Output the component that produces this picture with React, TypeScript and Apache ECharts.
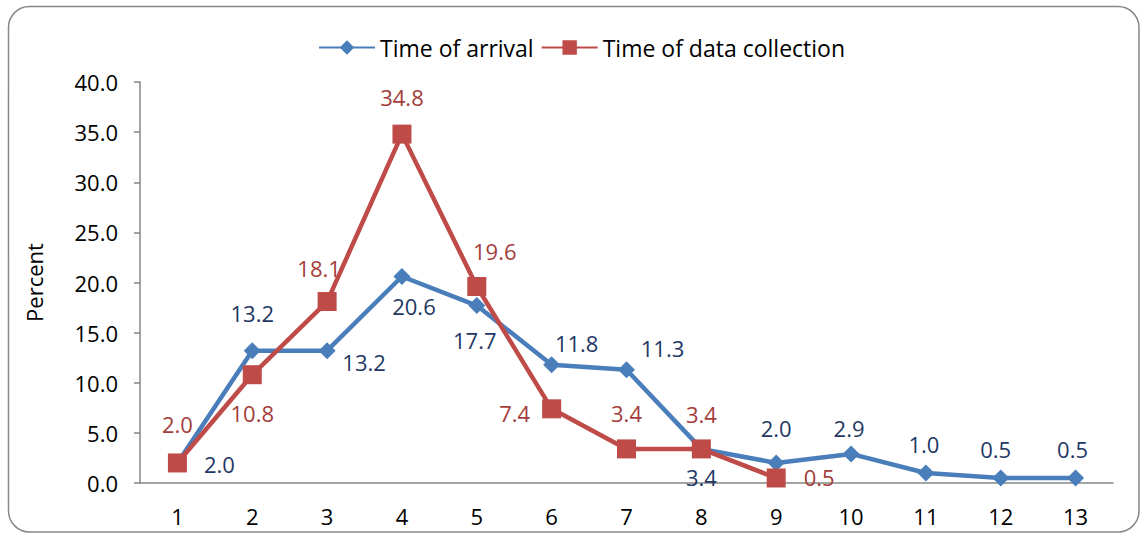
import React, { useEffect, useRef } from "react";
import * as echarts from "echarts";

const categories = ["1", "2", "3", "4", "5", "6", "7", "8", "9", "10", "11", "12", "13"];
const arrivalValues = [2.0, 13.2, 13.2, 20.6, 17.7, 11.8, 11.3, 3.4, 2.0, 2.9, 1.0, 0.5, 0.5];
const collectionValues = [2.0, 10.8, 18.1, 34.8, 19.6, 7.4, 3.4, 3.4, 0.5];
const yTicks = { min: 0, max: 40, interval: 5 };

// label offsets (pixels, relative to each point)
const arrivalLabelOffsets: [number, number][] = [
  [42, 1], [0, -38], [37, 11], [12, 30], [-2, 34], [25, -22], [36, -22],
  [0, 28], [0, -35], [-2, -26], [-2, -29], [-5, -29], [-3, -29],
];
const collectionLabelOffsets: [number, number][] = [
  [0, -39], [0, 38], [-8, -34], [0, -37], [18, -36], [-37, 4], [0, -36], [0, -35], [43, -1],
];

const FONT = "'Open Sans', sans-serif";
const FS = 22;
const AXIS_GRAY = "#868686";
const BLUE = "#4A7EBB";
const BLUE_TEXT = "#1F3864";
const RED = "#BE4B48";
const RED_TEXT = "#A33D3B";

export default function App() {
  const ref = useRef<HTMLDivElement>(null);
  useEffect(() => {
    if (!ref.current) return;
    const chart = echarts.init(ref.current, null, { renderer: "svg" });
    const fmt = (v: number) => Number(v).toFixed(1);
    chart.setOption({
      animation: false,
      textStyle: { fontFamily: FONT },
      graphic: [
        {
          type: "rect",
          shape: { x: 8.5, y: 6.5, width: 1130.5, height: 525.5, r: 21 },
          style: { fill: "none", stroke: "#878787", lineWidth: 1.5 },
          silent: true,
        },
      ],
      legend: {
        top: 31,
        left: 313,
        itemWidth: 56,
        itemHeight: 18,
        itemGap: 7,
        textStyle: { fontFamily: FONT, fontSize: 23, color: "#000" },
        data: ["Time of arrival", "Time of data collection"],
      },
      grid: { left: 140, right: 27, top: 82, bottom: 51, containLabel: false },
      xAxis: {
        type: "category",
        data: categories,
        boundaryGap: true,
        axisLine: { lineStyle: { color: AXIS_GRAY, width: 1.5 } },
        axisTick: { alignWithLabel: false, length: 6, lineStyle: { color: AXIS_GRAY, width: 1.5 } },
        axisLabel: { color: "#000", fontSize: FS, fontFamily: FONT, margin: 22 },
        splitLine: { show: false },
      },
      yAxis: {
        type: "value",
        min: yTicks.min,
        max: yTicks.max,
        interval: yTicks.interval,
        name: "Percent",
        nameLocation: "middle",
        nameRotate: 90,
        nameGap: 95,
        nameTextStyle: { color: "#000", fontSize: FS, fontFamily: FONT },
        axisLine: { show: true, lineStyle: { color: AXIS_GRAY, width: 1.5 } },
        axisTick: { show: true, length: 6, lineStyle: { color: AXIS_GRAY, width: 1.5 } },
        axisLabel: { color: "#000", fontSize: FS, fontFamily: FONT, margin: 22, formatter: fmt },
        splitLine: { show: false },
      },
      series: [
        {
          name: "Time of arrival",
          type: "line",
          symbol: "diamond",
          symbolSize: 17,
          lineStyle: { color: BLUE, width: 4.5 },
          itemStyle: { color: BLUE },
          data: arrivalValues.map((v, i) => ({
            value: v,
            label: { offset: arrivalLabelOffsets[i] },
          })),
          label: {
            show: true,
            position: "inside",
            color: BLUE_TEXT,
            fontSize: FS,
            fontFamily: FONT,
            formatter: (p: any) => fmt(p.value),
          },
          z: 2,
        },
        {
          name: "Time of data collection",
          type: "line",
          symbol: "rect",
          symbolSize: 19,
          lineStyle: { color: RED, width: 4.5 },
          itemStyle: { color: RED },
          data: collectionValues.map((v, i) => ({
            value: v,
            label: { offset: collectionLabelOffsets[i] },
          })),
          label: {
            show: true,
            position: "inside",
            color: RED_TEXT,
            fontSize: FS,
            fontFamily: FONT,
            formatter: (p: any) => fmt(p.value),
          },
          z: 3,
        },
      ],
    });
    return () => chart.dispose();
  }, []);
  return (
    <div
      ref={ref}
      style={{ position: "fixed", left: 0, top: 0, width: 1140, height: 534, background: "#fff" }}
    />
  );
}
